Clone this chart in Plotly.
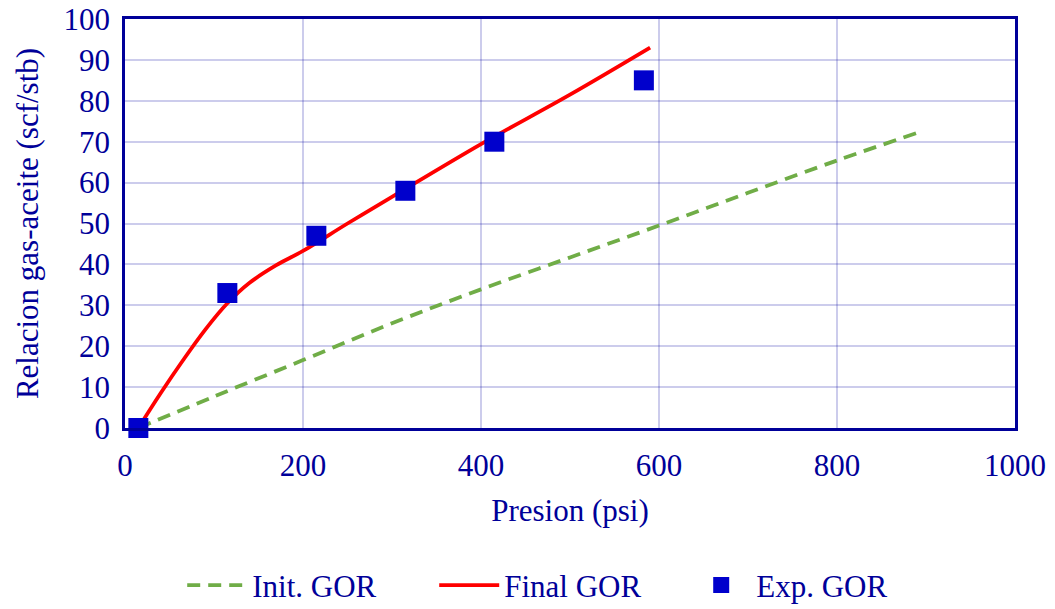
import plotly.graph_objects as go

# Data
init_p = [15, 100, 200, 300, 400, 500, 600, 700, 800, 892]
init_gor = [0, 7.7, 16.6, 25.6, 33.9, 41.7, 49.5, 57.5, 65.4, 72.3]

final_p = [15, 40, 65, 90, 115, 140, 170, 200, 250, 300, 400, 500, 590]
final_gor = [0, 8.5, 16.5, 24.0, 30.5, 35.5, 39.8, 43.3, 50.0, 56.5, 69.4, 81.5, 93.0]

exp_p = [15, 115, 215, 315, 415, 583]
exp_gor = [0, 33, 47, 58, 70, 85]

FONT = "Liberation Serif"
BLUE = "#000099"
GRID = "rgba(0,0,160,0.2)"
FS = 31

fig = go.Figure()
fig.add_trace(go.Scatter(x=init_p, y=init_gor, mode="lines", name="Init. GOR",
                         line=dict(color="#70AD47", width=3.8, dash="13px,8px", shape="spline", smoothing=1),
                         cliponaxis=False))
fig.add_trace(go.Scatter(x=final_p, y=final_gor, mode="lines", name="Final GOR",
                         line=dict(color="#FF0000", width=3.8, shape="spline", smoothing=1),
                         cliponaxis=False))
fig.add_trace(go.Scatter(x=exp_p, y=exp_gor, mode="markers", name="Exp. GOR",
                         marker=dict(symbol="square", size=20, color="#0000CC",
                                     line=dict(width=0)),
                         cliponaxis=False))

fig.update_layout(
    width=1055, height=609,
    margin=dict(l=125, r=40, t=19, b=181, autoexpand=False),
    plot_bgcolor="white", paper_bgcolor="white",
    font=dict(family=FONT, size=FS, color=BLUE),
    showlegend=True,
    legend=dict(orientation="h", x=0.489, xanchor="center", y=-0.385, yanchor="middle",
                font=dict(family=FONT, size=FS, color=BLUE),
                entrywidth=177, itemwidth=60, bgcolor="rgba(0,0,0,0)"),
    xaxis=dict(range=[0, 1000], tickvals=[0, 200, 400, 600, 800, 1000],
               showgrid=True, gridcolor=GRID, gridwidth=1.5, automargin=False,
               showline=True, linecolor=BLUE, linewidth=2.5, mirror=True,
               zeroline=False, ticks="", ticklabelstandoff=8,
               tickfont=dict(family=FONT, size=FS, color=BLUE),
               title=dict(text="Presion (psi)", standoff=18,
                          font=dict(family=FONT, size=FS, color=BLUE))),
    yaxis=dict(range=[0, 100], dtick=10,
               showgrid=True, gridcolor=GRID, gridwidth=1.5, automargin=False,
               showline=True, linecolor=BLUE, linewidth=2.5, mirror=True,
               zeroline=False, ticks="", ticklabelstandoff=6,
               tickfont=dict(family=FONT, size=FS, color=BLUE),
               title=dict(text="Relacion gas-aceite (scf/stb)", standoff=16,
                          font=dict(family=FONT, size=FS, color=BLUE))),
)

fig.write_html("out.html")
